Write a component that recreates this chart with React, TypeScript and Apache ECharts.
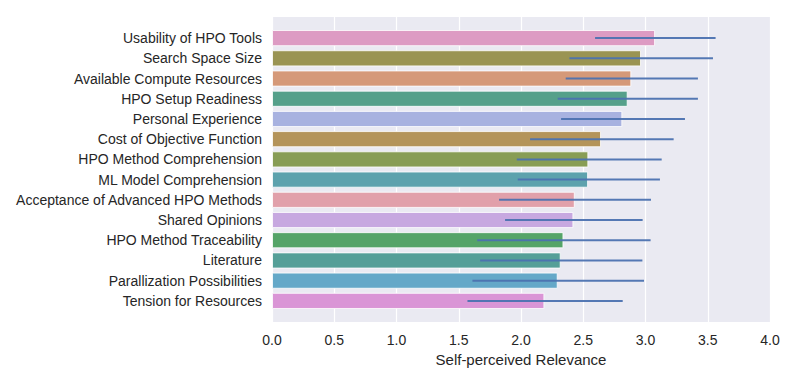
import React, { useEffect, useRef } from "react";
import * as echarts from "echarts";

const categories = [
  "Usability of HPO Tools",
  "Search Space Size",
  "Available Compute Resources",
  "HPO Setup Readiness",
  "Personal Experience",
  "Cost of Objective Function",
  "HPO Method Comprehension",
  "ML Model Comprehension",
  "Acceptance of Advanced HPO Methods",
  "Shared Opinions",
  "HPO Method Traceability",
  "Literature",
  "Parallization Possibilities",
  "Tension for Resources",
];
const means = [3.077, 2.964, 2.886, 2.857, 2.814, 2.643, 2.541, 2.539, 2.432, 2.421, 2.341, 2.319, 2.295, 2.188];
const errLow = [2.595, 2.389, 2.359, 2.295, 2.322, 2.073, 1.966, 1.974, 1.824, 1.872, 1.648, 1.672, 1.61, 1.57];
const errHigh = [3.563, 3.542, 3.421, 3.421, 3.317, 3.226, 3.13, 3.116, 3.044, 2.977, 3.041, 2.975, 2.988, 2.817];
const barColors = [
  "#DD9BC3", "#9A9453", "#D59979", "#55A08A", "#A8B2E0", "#B4945A", "#889D55",
  "#5DA2AD", "#E1A0AA", "#C7A8E0", "#55A468", "#559F98", "#64A8C8", "#DA95D6",
];
const xTicks = { min: 0, max: 4, interval: 0.5 };

export default function App() {
  const ref = useRef<HTMLDivElement>(null);
  useEffect(() => {
    if (!ref.current) return;
    const chart = echarts.init(ref.current, undefined, { renderer: "svg" });
    const left = 272;
    const width = 498;
    const font = "Liberation Sans, Arial, sans-serif";
    chart.setOption({
      animation: false,
      grid: [
        { left, top: 17, width, height: 305, show: true, backgroundColor: "#EAEAF2", borderWidth: 0 },
        { left, top: 28, width, height: 283 },
      ],
      xAxis: [
        {
          gridIndex: 0,
          type: "value",
          min: xTicks.min,
          max: xTicks.max,
          interval: xTicks.interval,
          axisLine: { show: false },
          axisTick: { show: false },
          splitLine: { show: true, lineStyle: { color: "#FFFFFF", width: 1.2 } },
          axisLabel: {
            color: "#262626",
            fontSize: 14,
            fontFamily: font,
            margin: 11,
            formatter: (v: number) => v.toFixed(1),
          },
          name: "Self-perceived Relevance",
          nameLocation: "middle",
          nameGap: 28,
          nameTextStyle: { color: "#262626", fontSize: 15, fontFamily: font },
        },
        {
          gridIndex: 1,
          type: "value",
          min: xTicks.min,
          max: xTicks.max,
          show: false,
          splitLine: { show: false },
        },
      ],
      yAxis: [
        { gridIndex: 0, type: "value", show: false, splitLine: { show: false } },
        {
          gridIndex: 1,
          type: "category",
          data: categories,
          inverse: true,
          axisLine: { show: false },
          axisTick: { show: false },
          splitLine: { show: false },
          axisLabel: { color: "#262626", fontSize: 14, fontFamily: font, margin: 10 },
        },
      ],
      series: [
        {
          type: "bar",
          xAxisIndex: 1,
          yAxisIndex: 1,
          barWidth: "80%",
          data: means.map((v, i) => ({
            value: v,
            itemStyle: { color: barColors[i], borderColor: "rgba(255,255,255,0.8)", borderWidth: 1 },
          })),
        },
        {
          type: "custom",
          xAxisIndex: 1,
          yAxisIndex: 1,
          data: categories.map((_, i) => [i, errLow[i], errHigh[i]]),
          encode: { y: 0, x: [1, 2] },
          renderItem: (params: any, api: any) => {
            const idx = api.value(0);
            const a = api.coord([api.value(1), idx]);
            const b = api.coord([api.value(2), idx]);
            return {
              type: "line",
              shape: { x1: a[0], y1: a[1], x2: b[0], y2: b[1] },
              style: { stroke: "#4C72B0", lineWidth: 2, opacity: 0.95 },
            };
          },
          z: 5,
        },
      ],
    });
    return () => chart.dispose();
  }, []);
  return (
    <div
      ref={ref}
      style={{ position: "fixed", left: 0, top: 0, width: 797, height: 383, background: "#FFFFFF" }}
    />
  );
}
